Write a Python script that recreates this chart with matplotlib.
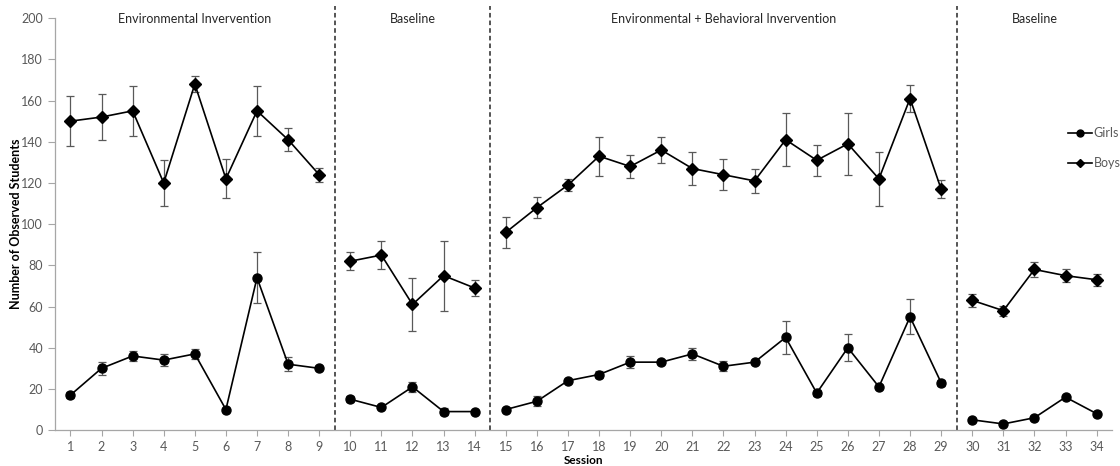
import numpy as np
import matplotlib
matplotlib.use("Agg")
import matplotlib.pyplot as plt
from matplotlib.lines import Line2D

# data
sessions = np.arange(1, 35)
girls = [17, 30, 36, 34, 37, 10, 74, 32, 30,
         15, 11, 21, 9, 9,
         10, 14, 24, 27, 33, 33, 37, 31, 33, 45, 18, 40, 21, 55, 23,
         5, 3, 6, 16, 8]
girls_err = [1.5, 3, 2.5, 3, 2.5, 0.5, 12.5, 3.5, 1,
             1.5, 0.5, 2.5, 1.5, 0.5,
             0.5, 2.5, 1, 1.5, 3, 1, 3, 2.5, 1, 8, 1.5, 6.5, 1, 8.5, 1.5,
             0.5, 0.5, 0.5, 0.5, 0.5]
boys = [150, 152, 155, 120, 168, 122, 155, 141, 124,
        82, 85, 61, 75, 69,
        96, 108, 119, 133, 128, 136, 127, 124, 121, 141, 131, 139, 122, 161, 117,
        63, 58, 78, 75, 73]
boys_err = [12, 11, 12, 11, 4, 9.5, 12, 5.5, 3.5,
            4.5, 7, 13, 17, 4,
            7.5, 5, 3, 9.5, 5.5, 6.5, 8, 7.5, 6, 13, 7.5, 15, 13, 6.5, 4.5,
            3, 2.5, 3.5, 3, 3]
phase_names = ["Environmental Invervention", "Baseline",
               "Environmental + Behavioral Invervention", "Baseline"]
phase_first = [1, 10, 15, 30]
phase_last = [9, 14, 29, 34]

plt.rcParams['font.family'] = ['Lato', 'DejaVu Sans']
grey_txt = '#595959'

fig = plt.figure(figsize=(11.2, 4.66), dpi=100)
ax = fig.add_axes([0.049, 0.077, 0.944, 0.884])

sessions = np.asarray(sessions)
g = np.asarray(girls, float)
ge = np.asarray(girls_err, float)
b = np.asarray(boys, float)
be = np.asarray(boys_err, float)

for i, (a, z) in enumerate(zip(phase_first, phase_last)):
    m = (sessions >= a) & (sessions <= z)
    ax.errorbar(sessions[m], g[m], yerr=ge[m], color='black', lw=1.2,
                marker='o', ms=6.5, ecolor='#595959', elinewidth=0.9,
                capsize=3, capthick=0.9, zorder=3)
    ax.errorbar(sessions[m], b[m], yerr=be[m], color='black', lw=1.2,
                marker='D', ms=6, ecolor='#595959', elinewidth=0.9,
                capsize=3, capthick=0.9, zorder=3)
    ax.text((a + z) / 2, 199.5, phase_names[i], ha='center', va='center',
            fontsize=9, color='#262626')

for z in phase_last[:-1]:
    ax.plot([z + 0.5, z + 0.5], [0, 206], color='#262626', lw=1.1,
            ls=(0, (3, 2)), clip_on=False, zorder=2)

ax.set_xlim(0.5, 34.5)
ax.set_ylim(0, 200)
ax.set_xticks(sessions)
ax.set_yticks(np.arange(0, 201, 20))
ax.tick_params(axis='x', length=4, color='#a6a6a6', labelsize=9, labelcolor=grey_txt, pad=4)
ax.tick_params(axis='y', length=5, color='#a6a6a6', labelsize=9, labelcolor=grey_txt)
for s in ['top', 'right']:
    ax.spines[s].set_visible(False)
for s in ['left', 'bottom']:
    ax.spines[s].set_color('#a6a6a6')
    ax.spines[s].set_linewidth(0.9)

ax.set_ylabel('Number of Observed Students', fontsize=9, fontweight='bold')
ax.yaxis.set_label_coords(-0.031, 0.5)
ax.set_xlabel('Session', fontsize=8.5, fontweight='bold')
ax.xaxis.set_label_coords(0.5, -0.06)

handles = [Line2D([], [], color='black', lw=1.2, marker='o', ms=5),
           Line2D([], [], color='black', lw=1.2, marker='D', ms=4.5)]
leg = fig.legend(handles, ['Girls', 'Boys'], loc='upper left',
                 bbox_to_anchor=(1068 / 1120, 1 - 127 / 466),
                 frameon=False, fontsize=9, borderpad=0, borderaxespad=0,
                 handlelength=1.9, handletextpad=0.15, labelspacing=1.45)
for t in leg.get_texts():
    t.set_color(grey_txt)

fig.savefig('out.png', dpi=100)
